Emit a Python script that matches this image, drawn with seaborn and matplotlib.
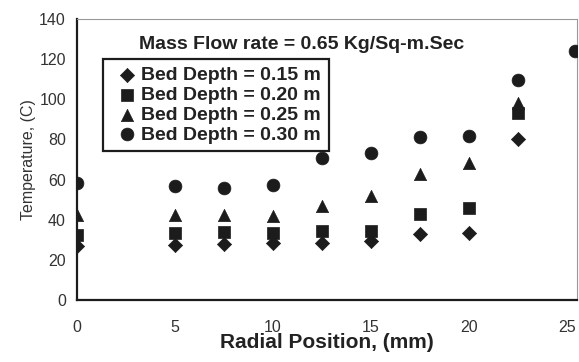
import matplotlib
matplotlib.use("Agg")
import matplotlib.pyplot as plt
import seaborn as sns
import pandas as pd

# data
radial = [0, 5, 7.5, 10, 12.5, 15, 17.5, 20, 22.5]
depth_015 = [27, 27.5, 28, 28.5, 28.5, 29.5, 33, 33.5, 80]
depth_020 = [32.5, 33.5, 34, 33.5, 34.5, 34.5, 43, 46, 93]
depth_025 = [42.5, 42.5, 42.5, 42, 47, 52, 63, 68.5, 98]
depth_030 = [58.5, 57, 56, 57.5, 71, 73.5, 81, 81.5, 109.5]
edge_x = [25.4]
edge_030 = [124]

labels = ["Bed Depth = 0.15 m", "Bed Depth = 0.20 m",
          "Bed Depth = 0.25 m", "Bed Depth = 0.30 m"]
markers = {labels[0]: "D", labels[1]: "s", labels[2]: "^", labels[3]: "o"}
sizes = {labels[0]: 52, labels[1]: 70, labels[2]: 78, labels[3]: 85}

rows = []
for lab, vals in zip(labels, [depth_015, depth_020, depth_025, depth_030]):
    for x, y in zip(radial, vals):
        rows.append((lab, x, y))
for x, y in zip(edge_x, edge_030):
    rows.append((labels[3], x, y))
df = pd.DataFrame(rows, columns=["series", "radial", "temp"])

sns.set_style("white")
plt.rcParams["font.family"] = ["Liberation Sans", "DejaVu Sans"]

fig = plt.figure(figsize=(5.79, 3.62), dpi=100)
ax = fig.add_axes([0.133, 0.171, 0.8635, 0.7765])

ink = "#1c1c1c"
for lab in labels:
    sub = df[df["series"] == lab]
    sns.scatterplot(data=sub, x="radial", y="temp", marker=markers[lab],
                    s=sizes[lab], color=ink, edgecolor=ink, linewidth=0.5,
                    ax=ax, label=lab, zorder=3)

ax.set_xlim(0, 25.5)
ax.set_ylim(0, 140)
ax.set_xticks([0, 5, 10, 15, 20, 25])
ax.set_yticks(range(0, 141, 20))
ax.tick_params(axis="both", direction="out", length=4, width=1.2,
               labelsize=11.5, colors=ink, labelcolor="#333333", pad=4)
ax.tick_params(axis="x", pad=10)

for side in ["left", "bottom"]:
    ax.spines[side].set_color(ink)
    ax.spines[side].set_linewidth(1.6)
for side in ["top", "right"]:
    ax.spines[side].set_color("#999999")
    ax.spines[side].set_linewidth(0.8)

ax.set_xlabel("Radial Position, (mm)", fontsize=15, fontweight="bold",
              color="#222222", labelpad=-1)
ax.set_ylabel("Temperature, (C)", fontsize=11.5, color="#333333", labelpad=2)

ax.text(0.124, 0.91, "Mass Flow rate = 0.65 Kg/Sq-m.Sec", transform=ax.transAxes,
        fontsize=14, fontweight="bold", color="#222222", va="center")

leg = ax.legend(loc="upper left", bbox_to_anchor=(0.052, 0.858), frameon=True,
                fancybox=False, framealpha=1, handletextpad=-0.1, handlelength=1.65,
                borderpad=0.4, labelspacing=0.11, borderaxespad=0,
                markerscale=1.0, prop={"size": 14, "weight": "bold"})
leg.get_frame().set_edgecolor(ink)
leg.get_frame().set_linewidth(1.6)
for t in leg.get_texts():
    t.set_color("#222222")

fig.savefig("out.png", dpi=100)
